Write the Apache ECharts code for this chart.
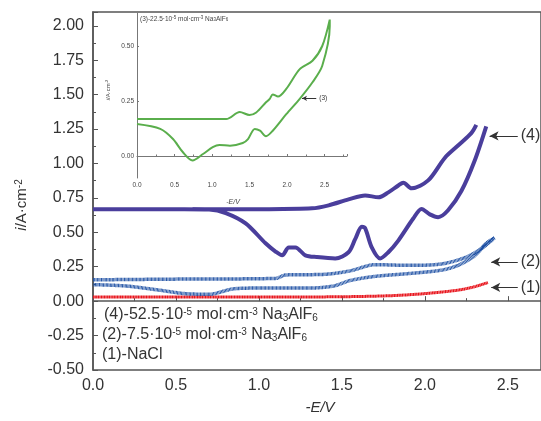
<!DOCTYPE html>
<html lang="en">
<head>
<meta charset="UTF-8">
<title>CV curves</title>
<script src="https://cdn.jsdelivr.net/npm/echarts@6/dist/echarts.min.js"></script>
<style>
  html, body { margin: 0; padding: 0; background: #fff; }
  #ech { width: 541px; height: 421px; }
</style>
</head>
<body>
<div id="ech"></div>
<script>
// main plot data, [-E/V, i/A·cm^-2]
let nacl = [[0, 0.03], [0.5, 0.03], [1.0, 0.03], [1.5, 0.032], [1.8, 0.04], [2.0, 0.055], [2.2, 0.08], [2.3, 0.105], [2.38, 0.135]];
let na75Up = [[0, 0.155], [0.5, 0.16], [1.1, 0.165], [1.16, 0.19], [1.4, 0.195], [1.55, 0.22], [1.7, 0.265], [1.9, 0.26], [2.1, 0.27], [2.25, 0.32], [2.35, 0.39], [2.42, 0.46]];
let na75Down = [[2.37, 0.42], [2.3, 0.33], [2.2, 0.26], [2.1, 0.225], [1.9, 0.2], [1.7, 0.18], [1.55, 0.15], [1.45, 0.11], [1.3, 0.095], [1.0, 0.095], [0.85, 0.09], [0.7, 0.05], [0.55, 0.055], [0.4, 0.08], [0.2, 0.11], [0, 0.12]];
let na525Up = [[0.6, 0.667], [1.0, 0.668], [1.32, 0.674], [1.42, 0.696], [1.54, 0.739], [1.64, 0.768], [1.72, 0.754], [1.78, 0.79], [1.84, 0.84], [1.87, 0.86], [1.92, 0.82], [2.02, 0.877], [2.12, 1.04], [2.2, 1.13], [2.28, 1.22], [2.31, 1.28]];
let na525Down = [[2.37, 1.27], [2.3, 1.02], [2.22, 0.8], [2.14, 0.66], [2.08, 0.61], [2.03, 0.63], [1.98, 0.67], [1.93, 0.6], [1.84, 0.44], [1.78, 0.355], [1.73, 0.31], [1.68, 0.39], [1.64, 0.53], [1.62, 0.54], [1.58, 0.45], [1.54, 0.355], [1.46, 0.31], [1.35, 0.32], [1.28, 0.333], [1.22, 0.39], [1.18, 0.39], [1.14, 0.333], [1.1, 0.36], [1.04, 0.42], [0.92, 0.565], [0.8, 0.64], [0.7, 0.665], [0.55, 0.667], [0, 0.667]];

// inset: (3) 22.5e-5 mol/cm3
let na225Down = [[0, 0.145], [0.31, 0.123], [0.48, 0.077], [0.61, 0.018], [0.74, -0.02], [0.88, 0.009], [1.01, 0.04], [1.1, 0.05], [1.24, 0.047], [1.41, 0.059], [1.48, 0.077], [1.57, 0.123], [1.64, 0.115], [1.72, 0.09], [1.81, 0.115], [1.99, 0.19], [2.17, 0.26], [2.34, 0.335], [2.47, 0.41], [2.57, 0.59]];
let na225Up = [[2.57, 0.62], [2.47, 0.5], [2.34, 0.433], [2.17, 0.395], [1.99, 0.305], [1.88, 0.27], [1.81, 0.28], [1.77, 0.26], [1.72, 0.244], [1.59, 0.198], [1.5, 0.186], [1.37, 0.2], [1.19, 0.168], [0.6, 0.168], [0, 0.168]];

let insetYTicks = [0, 0.25, 0.5];

let font = "'Liberation Sans', Arial, sans-serif";
let axisColor = '#555';

function arrow(x0, x1, y, txt, size) {
    return {
        silent: true,
        symbol: ['none', 'arrow'],
        symbolSize: size > 10 ? [7, 9] : [4, 5],
        lineStyle: { color: '#333', type: 'solid', width: 1 },
        label: { show: true, position: 'start', formatter: txt, color: '#333', fontSize: size, fontFamily: font, distance: 3 },
        data: [[{ coord: [x0, y] }, { coord: [x1, y] }]]
    };
}

let my_echart = echarts.init(document.getElementById('ech'));
let option = {
    animation: false,
    grid: [
        { left: 93, top: 12, right: -3, bottom: 51, show: true, borderColor: axisColor, borderWidth: 1.5 },
        { left: 137, top: 13, right: 194, bottom: 243 }
    ],
    xAxis: [{
        type: 'value', gridIndex: 0, min: 0, max: 2.7, interval: 0.5,
        axisLine: { lineStyle: { color: axisColor, width: 1.5 } },
        axisTick: { inside: true, length: 5, lineStyle: { color: axisColor } },
        minorTick: { show: true, splitNumber: 2, length: 3, lineStyle: { color: axisColor } },
        splitLine: { show: false },
        axisLabel: { showMaxLabel: false, color: '#333', fontSize: 16, fontFamily: font, margin: 8, formatter: v => v.toFixed(1) }
    }, {
        type: 'value', gridIndex: 1, min: 0, max: 2.8, interval: 0.5,
        axisLine: { lineStyle: { color: '#777', width: 1 } },
        axisTick: { inside: true, length: 2, lineStyle: { color: '#777' } },
        minorTick: { show: true, splitNumber: 2, length: 1.5, lineStyle: { color: '#777' } },
        splitLine: { show: false },
        axisLabel: { showMaxLabel: false, color: '#444', fontSize: 6.5, fontFamily: font, margin: 4, formatter: v => v.toFixed(1) }
    }],
    yAxis: [{
        type: 'value', gridIndex: 0, min: -0.5, max: 2.1, interval: 0.25,
        axisLine: { show: true, lineStyle: { color: axisColor, width: 1.5 } },
        axisTick: { show: true, inside: true, length: 5, lineStyle: { color: axisColor } },
        minorTick: { show: true, splitNumber: 2, length: 3, lineStyle: { color: axisColor } },
        splitLine: { show: false },
        axisLabel: { showMaxLabel: false, color: '#333', fontSize: 16, fontFamily: font, margin: 9, formatter: v => v.toFixed(2) }
    }, {
        type: 'value', gridIndex: 1, min: -0.1, max: 0.65,
        axisLine: { show: true, lineStyle: { color: '#777', width: 1 } },
        axisTick: { show: true, inside: true, length: 2, customValues: insetYTicks, lineStyle: { color: '#777' } },
        splitLine: { show: false },
        axisLabel: { customValues: insetYTicks, color: '#444', fontSize: 6.5, fontFamily: font, margin: 3, formatter: v => v.toFixed(2) }
    }],
    series: [{
        name: '(1)', type: 'line', xAxisIndex: 0, yAxisIndex: 0, showSymbol: false, smooth: 0.3,
        lineStyle: { color: '#e8141c', width: 3, type: [1.3, 0.3] },
        data: nacl,
        markLine: arrow(2.56, 2.4, 0.1, '(1)', 16)
    }, {
        name: '(2)', type: 'line', xAxisIndex: 0, yAxisIndex: 0, showSymbol: false, smooth: 0.3,
        lineStyle: { color: '#1b4ea3', width: 3.5, type: [0.9, 0.45] },
        data: na75Up.concat(na75Down),
        markLine: arrow(2.56, 2.4, 0.285, '(2)', 16)
    }, {
        name: '(4)', type: 'line', xAxisIndex: 0, yAxisIndex: 0, showSymbol: false, smooth: 0.3, connectNulls: false,
        lineStyle: { color: '#4a3e9c', width: 4 },
        data: na525Up.concat([[2.34, '-']], na525Down),
        markLine: arrow(2.56, 2.39, 1.2, '(4)', 16)
    }, {
        name: '(3)', type: 'line', xAxisIndex: 1, yAxisIndex: 1, showSymbol: false, smooth: 0.3,
        lineStyle: { color: '#5aae4c', width: 2 },
        data: na225Down.concat(na225Up),
        markLine: arrow(2.39, 2.2, 0.262, '(3)', 6.5)
    }],
    graphic: [{
        type: 'text', x: 22, y: 205, rotation: Math.PI / 2, z: 10,
        style: {
            text: '{i|i}/A·cm{s|-2}', fill: '#333', font: '15px ' + font, align: 'center', verticalAlign: 'middle',
            rich: { i: { fontStyle: 'italic', fontSize: 15, fontFamily: font }, s: { fontSize: 10, fontFamily: font, verticalAlign: 'top', lineHeight: 10 } }
        }
    }, {
        type: 'text', x: 320, y: 408,
        style: { text: '-E/V', fill: '#333', font: 'italic 15px ' + font, align: 'center', verticalAlign: 'middle' }
    }, {
        type: 'text', x: 108, y: 90, rotation: Math.PI / 2,
        style: {
            text: '{i|i}/A·cm{s|-2}', fill: '#444', font: '6px ' + font, align: 'center', verticalAlign: 'middle',
            rich: { i: { fontStyle: 'italic', fontSize: 6, fontFamily: font }, s: { fontSize: 4, fontFamily: font, verticalAlign: 'top', lineHeight: 4 } }
        }
    }, {
        type: 'text', x: 233, y: 202,
        style: { text: '-E/V', fill: '#444', font: 'italic 7px ' + font, align: 'center', verticalAlign: 'middle' }
    }, {
        type: 'text', x: 140, y: 19,
        style: {
            text: '(3)-22.5·10{s|-5} mol·cm{s|-3} Na{b|3}AlF{b|6}', fill: '#444', font: '6.5px ' + font, verticalAlign: 'middle',
            rich: { s: { fontSize: 4.5, fontFamily: font, verticalAlign: 'top', lineHeight: 4 }, b: { fontSize: 4.5, fontFamily: font, verticalAlign: 'bottom', lineHeight: 4 } }
        }
    }, {
        type: 'group', left: 102, top: 307,
        children: [
            '(4)-52.5·10{s|-5} mol·cm{s|-3} Na{b|3}AlF{b|6}',
            '(2)-7.5·10{s|-5} mol·cm{s|-3} Na{b|3}AlF{b|6}',
            '(1)-NaCl'
        ].map((t, k) => ({
            type: 'text', x: k ? -2 : 0, y: k * 20,
            style: {
                text: t, fill: '#333', font: '16px ' + font,
                rich: {
                    s: { fontSize: 10, fontFamily: font, verticalAlign: 'top', lineHeight: 8 },
                    b: { fontSize: 10, fontFamily: font, verticalAlign: 'bottom', lineHeight: 8 }
                }
            }
        }))
    }]
};
my_echart.setOption(option);
</script>
</body>
</html>
